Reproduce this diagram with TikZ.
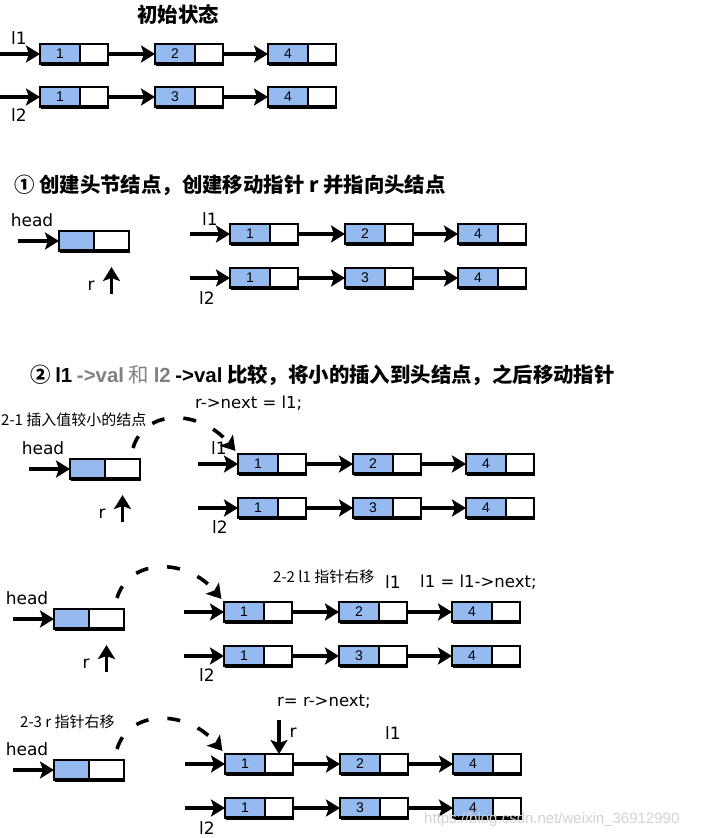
\documentclass[tikz,border=0pt]{standalone}
\usepackage{fontspec}
\setmainfont{DejaVu Sans}
\newfontfamily\cjk{Noto Sans CJK SC}
\newfontfamily\arial{Liberation Sans}
\usetikzlibrary{arrows.meta,positioning}
\definecolor{valblue}{HTML}{94BAF0}
\definecolor{wmgray}{HTML}{D2D2D2}
\newcommand{\listnode}[3]{%
  \node[valbox,anchor=west] (#1) at (#2) {#3};
  \node[nextbox,right=0pt of #1] (#1n) {};
  \draw[boxfoot] (#1.south west) -- (#1n.south east);}
\tikzset{
  valbox/.style={draw,line width=2.6pt,fill=valblue,minimum width=40pt,minimum height=20pt,
    inner sep=0pt,outer sep=0pt,font=\arial\fontsize{14}{14}\selectfont},
  nextbox/.style={valbox,fill=white,minimum width=28pt},
  halfbox/.style={minimum width=35pt},
  boxfoot/.style={line width=4pt,shorten <=1pt,shorten >=-1pt,yshift=0.8pt},
  ptr/.style={-{Stealth[length=14pt,width=17pt,inset=3pt]},line width=3.6pt},
  jump/.style={ptr,dash pattern=on 13pt off 19pt,shorten >=4pt},
  title/.style={font=\cjk\bfseries\fontsize{20.4}{20.4}\selectfont,anchor=west,inner sep=0pt},
  note/.style={font=\cjk\fontsize{15}{15}\selectfont,anchor=west,inner sep=0pt},
  code/.style={font=\fontsize{16.5}{16.5}\selectfont,anchor=west,inner sep=0pt},
  lbl/.style={font=\fontsize{17}{17}\selectfont,inner sep=0pt}
}
\begin{document}
\begin{tikzpicture}[x=1pt,y=-1pt]
  \useasboundingbox (0,0) rectangle (703,838);
  % titles and notes
  \node[title,anchor=center] (t0) at (178,15) {初始状态};
  \node[title] (t1) at (14,185) {① 创建头节结点，创建移动指针 r 并指向头结点};
  \node[title] (t2) at (30,375) {② {\arial l1} \textcolor{gray}{{\arial ->val} {\mdseries 和} {\arial l2}} {\arial ->val} 比较，将小的插入到头结点，之后移动指针};
  \node[code] (c1) at (195,403) {r->next = l1;};
  \node[note] (n1) at (1,420) {2-1 插入值较小的结点};
  \node[note] (n2) at (273,577) {2-2 l1 指针右移};
  \node[lbl] (g-l1) at (393,582) {l1};
  \node[code] (c2) at (420,582) {l1 = l1->next;};
  \node[code] (c3) at (277,702) {r= r->next;};
  \node[note] (n3) at (20,722) {2-3 r 指针右移};
  \node[lbl] (i-l1) at (393,733) {l1};
  % the two lists
  \foreach \rw/\xx/\yy/\vb in {a/40/54/2,b/40/97/3,c/230/234/2,d/230/278/3,e/238/464/2,
      f/238/508/3,g/224/612/2,h/224/656/3,i/225/764/2,j/225/808/3}{
    \listnode{\rw1}{\xx,\yy}{1}
    \listnode{\rw2}{\xx+115,\yy}{\vb}
    \listnode{\rw3}{\xx+228,\yy}{4}
    \coordinate (\rw0) at (\xx-40,\yy);
    \draw[ptr] (\rw0) -- (\rw1);
    \draw[ptr] (\rw1n) -- (\rw2);
    \draw[ptr] (\rw2n) -- (\rw3);
  }
  \node[lbl] (a-l1) at (19,38) {l1};
  \node[lbl] (b-l2) at (19,115) {l2};
  \node[lbl] (c-l1) at (210,219) {l1};
  \node[lbl] (d-l2) at (207,298) {l2};
  \node[lbl] (e-l1) at (219,448) {l1};
  \node[lbl] (f-l2) at (220,527) {l2};
  \node[lbl] (h-l2) at (207,675) {l2};
  \node[lbl] (j-l2) at (207,828) {l2};
  % head nodes
  \foreach \hd/\xx/\yy in {p/59/241,q/70/469,s/54/619,u/54/770}{
    \node[valbox,halfbox,anchor=west] (\hd) at (\xx,\yy) {};
    \node[nextbox,halfbox,right=0pt of \hd] (\hd n) {};
    \draw[boxfoot] (\hd.south west) -- (\hd n.south east);
    \node[lbl] (\hd-head) at (\xx-27,\yy-21) {head};
    \coordinate (\hd0) at (\xx-41,\yy);
    \draw[ptr] (\hd0) -- (\hd);
  }
  \foreach \hd/\xx/\yy in {p/59/241,q/70/469,s/54/619}{
    \coordinate (\hd r) at (\xx+52.5,\yy+53);
    \node[lbl] (\hd-r) at (\xx+32,\yy+45) {r};
    \draw[ptr,shorten >=16pt] (\hd r) -- (\hd n);
  }
  % moves
  \foreach \hd/\xx/\yy/\to in {q/70/469/e1,s/54/619/g1,u/54/770/i1}{
    \coordinate (\hd d) at (\xx+63,\yy-21);
    \draw[jump] (\hd d) .. controls +(12,-40) and +(-38,-45) .. (\to.north west);
  }
  \coordinate (ur) at (279,720);
  \node[lbl] (u-r) at (293,733) {r};
  \draw[ptr] (ur) -- (i1n);
  % watermark
  \node[font=\arial\fontsize{15}{15}\selectfont,text=wmgray,anchor=west,inner sep=0pt] (wm) at (424,820) {https://blog.csdn.net/weixin\_36912990};
\end{tikzpicture}
\end{document}
